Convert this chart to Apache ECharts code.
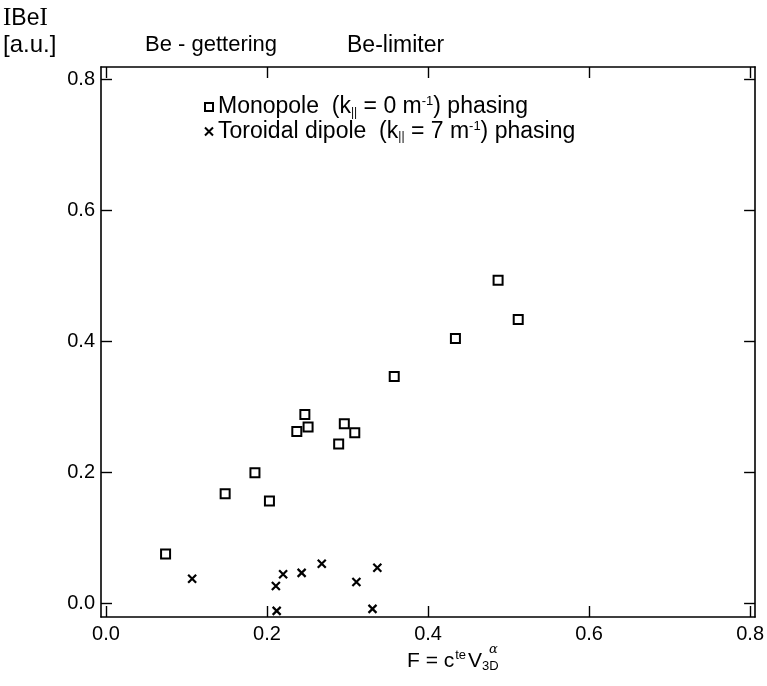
<!DOCTYPE html>
<html>
<head>
<meta charset="utf-8">
<script src="https://cdn.jsdelivr.net/npm/echarts@6/dist/echarts.min.js"></script>
<style>html,body{margin:0;padding:0;background:#fff}#c{width:767px;height:686px}</style>
</head>
<body>
<div id="c"></div>
<script>
// Monopole (k|| = 0 m^-1) phasing: [F, IBeI]
const monopoleF = [0.074, 0.148, 0.185, 0.203, 0.237, 0.247, 0.251, 0.289, 0.296, 0.309, 0.358, 0.434, 0.487, 0.512];
const monopoleBe = [0.075, 0.167, 0.199, 0.156, 0.262, 0.288, 0.269, 0.243, 0.274, 0.260, 0.346, 0.404, 0.493, 0.433];
// Toroidal dipole (k|| = 7 m^-1) phasing
const dipoleF = [0.107, 0.211, 0.220, 0.243, 0.268, 0.311, 0.337, 0.212, 0.331];
const dipoleBe = [0.037, 0.026, 0.044, 0.046, 0.060, 0.032, 0.054, -0.012, -0.009];
// tick values
const xTicks = [0, 0.2, 0.4, 0.6, 0.8];
const yTicks = [0, 0.2, 0.4, 0.6, 0.8];

const FONT = 'Liberation Sans, Arial, Helvetica, sans-serif';
const crossPath = 'path://M0,0L10,10M10,0L0,10';

const chart = echarts.init(document.getElementById('c'), null, {renderer: 'canvas'});

function axisCommon(showLabel, pos, ticks) {
  return {
    type: 'value',
    position: pos,
    axisLine: {show: true, onZero: false, lineStyle: {color: '#000', width: 1.6}},
    axisTick: {show: true, inside: true, length: 11, customValues: ticks, lineStyle: {color: '#000', width: 1.4}},
    axisLabel: {show: showLabel, customValues: ticks, color: '#000', fontSize: 20, fontFamily: FONT,
      formatter: v => v.toFixed(1)},
    splitLine: {show: false}
  };
}

const xMin = -0.0062, xMax = 0.8062, yMin = -0.0214, yMax = 0.819;

const xBottom = Object.assign(axisCommon(true, 'bottom', xTicks), {min: xMin, max: xMax});
xBottom.axisLabel.margin = 7;
const xTop = Object.assign(axisCommon(false, 'top', xTicks), {min: xMin, max: xMax});
const yLeft = Object.assign(axisCommon(true, 'left', yTicks), {min: yMin, max: yMax});
yLeft.axisLabel.margin = 6;
const yRight = Object.assign(axisCommon(false, 'right', yTicks), {min: yMin, max: yMax});

const richLeg = {
  s: {fontSize: 12, fontFamily: FONT, color: '#000', padding: [11, 0, 0, 0]},
  p: {fontSize: 13, fontFamily: FONT, color: '#000', padding: [0, 0, 11, 0]}
};

chart.setOption({
  animation: false,
  backgroundColor: '#fff',
  grid: {left: 101, top: 67, right: 11, bottom: 69},
  xAxis: [xBottom, xTop],
  yAxis: [yLeft, yRight],
  legend: {
    orient: 'vertical', left: 199, top: 90, itemGap: 1, itemWidth: 8, itemHeight: 8,
    textStyle: {fontSize: 23, fontFamily: FONT, color: '#000', rich: richLeg},
    data: [{name: 'Monopole', icon: 'rect'}, {name: 'Toroidal dipole', icon: crossPath}],
    formatter: function (name) {
      if (name === 'Monopole') return 'Monopole  (k{s|||} = 0 m{p|-1}) phasing';
      return 'Toroidal dipole  (k{s|||} = 7 m{p|-1}) phasing';
    }
  },
  series: [
    {
      name: 'Monopole', type: 'scatter', clip: false,
      symbol: 'rect', symbolSize: 9,
      itemStyle: {color: '#fff', borderColor: '#000', borderWidth: 2, opacity: 1},
      data: monopoleF.map((f, i) => [f, monopoleBe[i]])
    },
    {
      name: 'Toroidal dipole', type: 'scatter', clip: false,
      symbol: crossPath, symbolSize: 8,
      itemStyle: {color: '#000', borderColor: '#000', borderWidth: 2.2, opacity: 1},
      data: dipoleF.map((f, i) => [f, dipoleBe[i]])
    }
  ],
  graphic: [
    {type: 'text', left: 3, top: 6, style: {text: '{r|I}Be{r|I}', fontSize: 23, fontFamily: FONT, fill: '#000',
      rich: {r: {fontFamily: 'Liberation Serif, Times New Roman, serif', fontSize: 25, fill: '#000'}}}},
    {type: 'text', left: 3, top: 33, style: {text: '[a.u.]', fontSize: 24, fontFamily: FONT, fill: '#000'}},
    {type: 'text', left: 145, top: 34, style: {text: 'Be - gettering', fontSize: 22, fontFamily: FONT, fill: '#000'}},
    {type: 'text', left: 347, top: 34, style: {text: 'Be-limiter', fontSize: 23, fontFamily: FONT, fill: '#000'}},
    {type: 'text', left: 407, top: 649, style: {text: 'F = c{p|te}V{s|3D}', fontSize: 21, fontFamily: FONT, fill: '#000',
      rich: {p: {fontSize: 13, fontFamily: FONT, fill: '#000', padding: [0, 2, 11, 1]},
             s: {fontSize: 13, fontFamily: FONT, fill: '#000', padding: [11, 0, 0, 0]}}}},
    {type: 'text', left: 489, top: 643, style: {text: 'α', fontSize: 13, fontFamily: 'DejaVu Serif, serif', fontStyle: 'italic', fill: '#000'}}
  ]
});
</script>
</body>
</html>
